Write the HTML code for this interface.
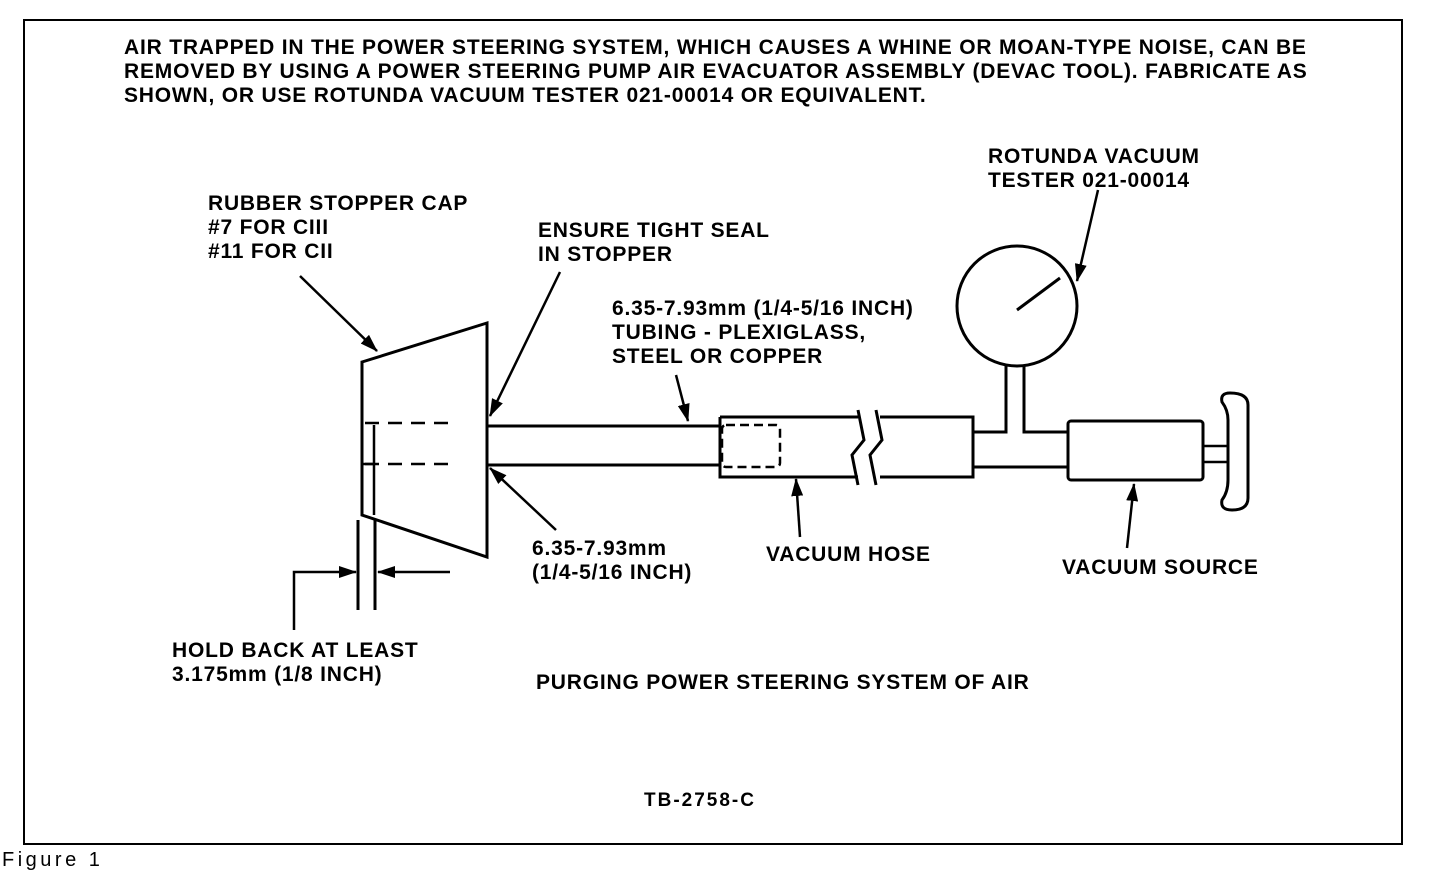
<!DOCTYPE html>
<html><head><style>
body{margin:0;background:#fff;width:1440px;height:872px;overflow:hidden;position:relative;font-family:"Liberation Sans",Arial,sans-serif;}
.t{position:absolute;font-size:21px;font-weight:bold;line-height:24px;color:#000;white-space:nowrap;letter-spacing:0.8px;}
</style></head><body>
<svg width="1440" height="872" style="position:absolute;left:0;top:0">
<defs>
<marker id="b" markerWidth="18" markerHeight="12" refX="17" refY="6" orient="auto" markerUnits="userSpaceOnUse" viewBox="0 0 18 12"><path d="M0,0 L18,6 L0,12 Z" fill="#000"/></marker></defs>
<rect x="24" y="20" width="1378" height="824" fill="none" stroke="#000" stroke-width="2"/>
<g stroke="#000" stroke-width="3" fill="none">
<path d="M362,362 L487,323 L487,557 L362,515 Z"/>
<line x1="374" y1="425" x2="374" y2="515" stroke-width="2.5"/>
<line x1="362" y1="464" x2="374" y2="464" stroke-width="2.5"/>
<path d="M365,423 H455 M365,464 H455" stroke-dasharray="14,9" stroke-width="2.5"/>
<line x1="487" y1="426" x2="720" y2="426"/>
<line x1="487" y1="465" x2="720" y2="465"/>
<path d="M720,417 H858 M720,417 V477 H858"/>
<path d="M858,410 L864,440 L852,455 L858,485"/>
<path d="M876,410 L882,440 L870,455 L876,485"/>
<path d="M880,417 H973 V477 H880"/>
<rect x="722" y="425" width="58" height="42" rx="4" stroke-dasharray="9,5" stroke-width="2.5"/>
<path d="M973,432 H1006 V366 M1024,366 V432 H1068 M973,467 H1068"/>
<circle cx="1017" cy="306" r="60"/>
<line x1="1017" y1="310" x2="1060" y2="278"/>
<rect x="1068" y="421" width="135" height="59" rx="3"/>
<path d="M1203,446 H1228 M1203,462 H1228" stroke-width="2.5"/>
<path d="M1230,393 Q1248,393 1248,405 V498 Q1248,510 1232,510 Q1220,510 1222,500 Q1228,492 1228,480 V420 Q1228,410 1222,402 Q1220,393 1230,393 Z"/>
<line x1="358" y1="520" x2="358" y2="610"/>
<line x1="375" y1="520" x2="375" y2="610"/>
</g>
<g stroke="#000" stroke-width="2.5" fill="none">
<line x1="300" y1="276" x2="377" y2="351" marker-end="url(#b)"/>
<line x1="560" y1="272" x2="490" y2="416" marker-end="url(#b)"/>
<line x1="676" y1="375" x2="688" y2="421" marker-end="url(#b)"/>
<line x1="556" y1="530" x2="490" y2="468" marker-end="url(#b)"/>
<line x1="800" y1="537" x2="796" y2="479" marker-end="url(#b)"/>
<line x1="1127" y1="548" x2="1134" y2="484" marker-end="url(#b)"/>
<line x1="1098" y1="190" x2="1077" y2="281" marker-end="url(#b)"/>
<path d="M294,630 V572 H356" marker-end="url(#b)"/>
<line x1="450" y1="572" x2="378" y2="572" marker-end="url(#b)"/>
</g>
</svg>
<div class="t" style="left:124px;top:36px">AIR TRAPPED IN THE POWER STEERING SYSTEM, WHICH CAUSES A WHINE OR MOAN-TYPE NOISE, CAN BE<br>REMOVED BY USING A POWER STEERING PUMP AIR EVACUATOR ASSEMBLY (DEVAC TOOL). FABRICATE AS<br>SHOWN, OR USE ROTUNDA VACUUM TESTER 021-00014 OR EQUIVALENT.</div>
<div class="t" style="left:988px;top:145px">ROTUNDA VACUUM<br>TESTER 021-00014</div>
<div class="t" style="left:208px;top:192px">RUBBER STOPPER CAP<br>#7 FOR CIII<br>#11 FOR CII</div>
<div class="t" style="left:538px;top:219px">ENSURE TIGHT SEAL<br>IN STOPPER</div>
<div class="t" style="left:612px;top:297px">6.35-7.93mm (1/4-5/16 INCH)<br>TUBING - PLEXIGLASS,<br>STEEL OR COPPER</div>
<div class="t" style="left:532px;top:537px">6.35-7.93mm<br>(1/4-5/16 INCH)</div>
<div class="t" style="left:766px;top:543px">VACUUM HOSE</div>
<div class="t" style="left:1062px;top:556px">VACUUM SOURCE</div>
<div class="t" style="left:172px;top:639px">HOLD BACK AT LEAST<br>3.175mm (1/8 INCH)</div>
<div class="t" style="left:536px;top:671px">PURGING POWER STEERING SYSTEM OF AIR</div>
<div class="t" style="left:644px;top:789px;font-size:19px;letter-spacing:2px">TB-2758-C</div>
<div class="t" style="left:2px;top:848px;font-weight:normal;font-size:20px;letter-spacing:3.5px">Figure 1</div>
</body></html>
